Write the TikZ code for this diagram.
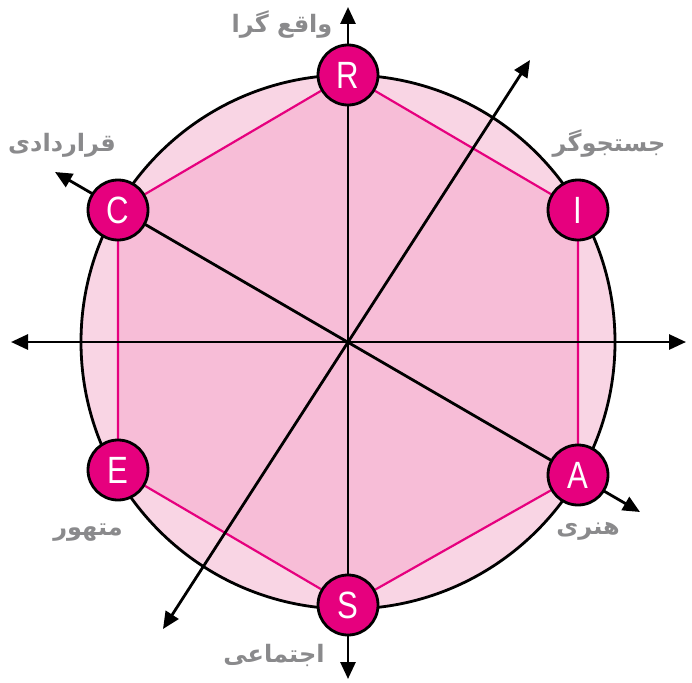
\documentclass[tikz,border=0pt]{standalone}
\usepackage{fontspec}
\setmainfont{Liberation Sans}
\newfontfamily\letterfont[FakeStretch=0.82]{Liberation Sans}
\newfontfamily\farsifont[Script=Arabic]{DejaVu Sans}
\TeXXeTstate=1
\usepackage{xcolor}
\definecolor{hollmag}{RGB}{230,0,126}
\definecolor{hollpink}{RGB}{247,189,215}
\definecolor{hollpale}{RGB}{249,213,228}
\definecolor{hollgrey}{RGB}{138,138,140}
\usepackage{tikz}
\usetikzlibrary{arrows.meta,backgrounds}
\newcommand{\fa}[1]{\farsifont\bfseries\beginR #1\endR}
\tikzset{
  typ/.style={draw, circle, line width=2.8pt, fill=hollmag, text=white, minimum size=60pt, inner sep=0pt, font=\letterfont\fontsize{38}{38}\selectfont},
  lbl/.style={text=hollgrey, font=\fontsize{24}{28}\selectfont},
  axis/.style={{Triangle[length=17pt,width=15pt]}-{Triangle[length=17pt,width=15pt]}, line width=2.8pt},
  edge/.style={draw=hollmag, line width=2.2pt}
}

\begin{document}
\begin{tikzpicture}[x=1pt, y=-1pt]
  \useasboundingbox (0,0) rectangle (692,682);
  \coordinate (O) at (348,342);
  % axis ends
  \coordinate (n) at (348,7);
  \coordinate (s) at (348,679);
  \coordinate (w) at (11,342);
  \coordinate (e) at (686,342);
  \coordinate (nw) at (55,172);
  \coordinate (se) at (640,512);
  \coordinate (ne) at (530,60);
  \coordinate (sw) at (163,629);
  % types
  \node[typ] (R) at (348,75) {R};
  \node[typ] (I) at (578,210) {I};
  \node[typ] (A) at (578,475) {A};
  \node[typ] (S) at (348,605) {S};
  \node[typ] (E) at (118,470) {E};
  \node[typ] (C) at (118,210) {C};
  % labels
  \node[lbl] (lR) at (282,25) {\fa{واقع گرا}};
  \node[lbl] (lC) at (62,145) {\fa{قراردادی}};
  \node[lbl] (lI) at (609,144) {\fa{جستجوگر}};
  \node[lbl] (lA) at (588,531) {\fa{هنری}};
  \node[lbl] (lE) at (88,533) {\fa{متهور}};
  \node[lbl] (lS) at (274,655) {\fa{اجتماعی}};
  \begin{scope}[on background layer]
    \draw[line width=2.8pt, fill=hollpale] (O) circle[radius=267pt];
    \fill[hollpink] (R.center) -- (I.center) -- (A.center) -- (S.center) -- (E.center) -- (C.center) -- cycle;
    \draw[edge] (R.center) -- (I.center) -- (A.center) -- (S.center) -- (E.center) -- (C.center) -- cycle;
    \draw[axis] (n) -- (s);
    \draw[axis] (w) -- (e);
    \draw[axis] (nw) -- (se);
    \draw[axis] (ne) -- (sw);
  \end{scope}
\end{tikzpicture}
\end{document}
